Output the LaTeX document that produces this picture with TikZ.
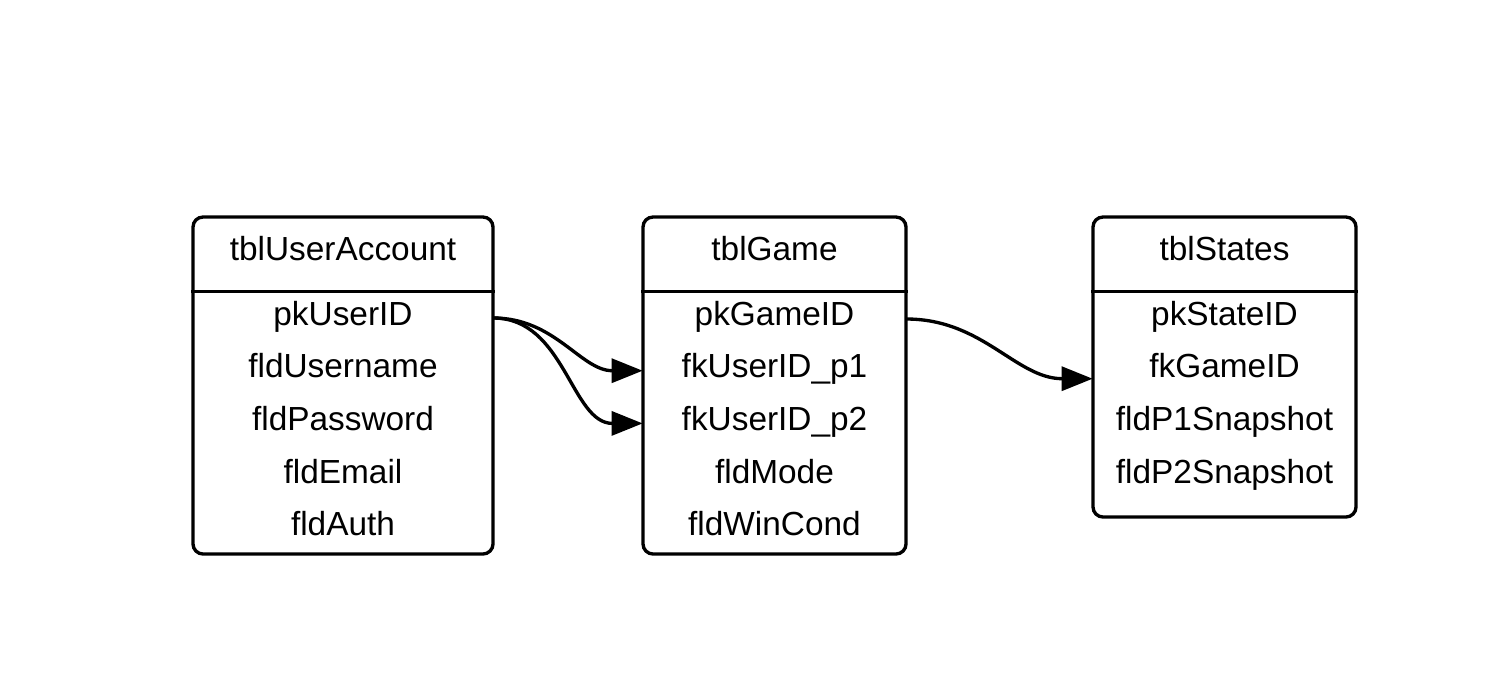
\documentclass[tikz,border=0pt]{standalone}
\usepackage{fontspec}
\setmainfont{Liberation Sans}
\usetikzlibrary{arrows.meta, positioning}
\tikzset{
  tbl/.style={rectangle, draw, line width=1.9pt, rounded corners=0.2cm,
    inner sep=0pt},
  hdr/.style={font=\fontsize{19}{22}\selectfont, inner sep=0pt},
  fld/.style={font=\fontsize{19}{22}\selectfont, inner sep=0pt,
    text height=0.5cm, text depth=0.22cm, minimum height=1.04cm},
  rule/.style={line width=1.9pt},
  link/.style={-{Triangle[length=0.62cm, width=0.48cm]}, line width=1.9pt}
}
\begin{document}
\begin{tikzpicture}
  \useasboundingbox (0,0) rectangle (30.24,-13.64);

  % tblUserAccount
  \node[tbl, minimum width=6cm, minimum height=6.74cm] (ua) at (6.86,-7.71) {};
  \node[hdr] (uaT) at (6.86,-4.98) {tblUserAccount};
  \draw[rule] ([yshift=-1.52cm]ua.north west) -- ([yshift=-1.52cm]ua.north east);
  \node[fld, minimum width=6cm] (uaPk) at (6.86,-6.36) {pkUserID};
  \node[fld, below=0pt of uaPk] (uaName) {fldUsername};
  \node[fld, below=0pt of uaName] (uaPass) {fldPassword};
  \node[fld, below=0pt of uaPass] (uaMail) {fldEmail};
  \node[fld, below=0pt of uaMail] (uaAuth) {fldAuth};

  % tblGame
  \node[tbl, minimum width=5.26cm, minimum height=6.74cm] (g) at (15.49,-7.71) {};
  \node[hdr] (gT) at (15.49,-4.98) {tblGame};
  \draw[rule] ([yshift=-1.52cm]g.north west) -- ([yshift=-1.52cm]g.north east);
  \node[fld] (gPk) at (15.49,-6.36) {pkGameID};
  \node[fld, minimum width=5.26cm, below=0pt of gPk] (gP1) {fkUserID\_p1};
  \node[fld, minimum width=5.26cm, below=0pt of gP1] (gP2) {fkUserID\_p2};
  \node[fld, below=0pt of gP2] (gMode) {fldMode};
  \node[fld, below=0pt of gMode] (gWin) {fldWinCond};
  \node[minimum width=5.26cm, inner sep=0pt] (gPkRow) at (gPk) {};

  % tblStates
  \node[tbl, minimum width=5.26cm, minimum height=6.0cm] (s) at (24.49,-7.34) {};
  \node[hdr] (sT) at (24.49,-4.98) {tblStates};
  \draw[rule] ([yshift=-1.52cm]s.north west) -- ([yshift=-1.52cm]s.north east);
  \node[fld] (sPk) at (24.49,-6.36) {pkStateID};
  \node[fld, minimum width=5.26cm, below=0pt of sPk] (sFk) {fkGameID};
  \node[fld, below=0pt of sFk] (sSnap1) {fldP1Snapshot};
  \node[fld, below=0pt of sSnap1] (sSnap2) {fldP2Snapshot};

  % links
  \draw[link] (uaPk.east) to[out=0, in=180] (gP1.west);
  \draw[link] (uaPk.east) to[out=0, in=180] (gP2.west);
  \draw[link] ([yshift=-0.02cm]gPkRow.east) to[out=0, in=180] ([yshift=-0.16cm]sFk.west);
\end{tikzpicture}
\end{document}
